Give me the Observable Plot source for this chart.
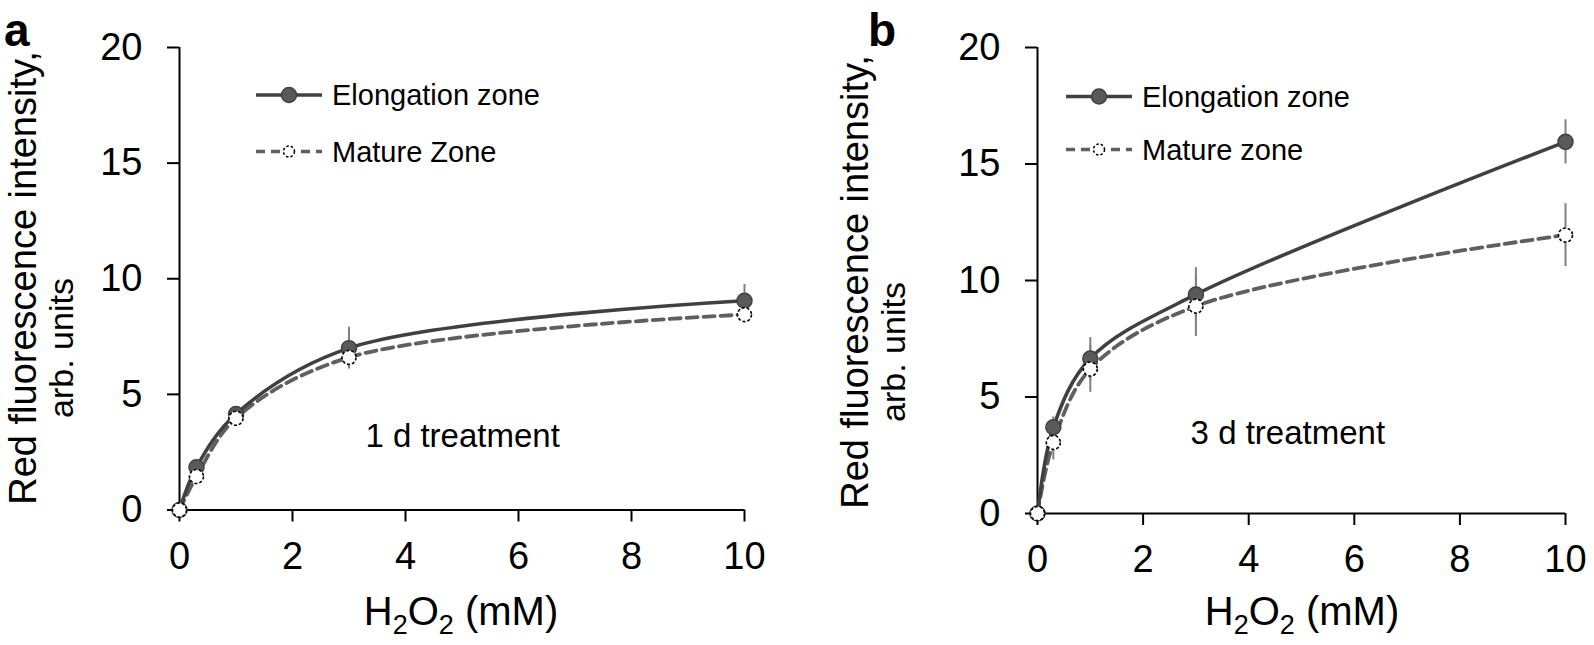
<!DOCTYPE html>
<html>
<head>
<meta charset="utf-8">
<script src="https://cdn.jsdelivr.net/npm/d3@7"></script>
<script src="https://cdn.jsdelivr.net/npm/@observablehq/plot@0.6"></script>
<style>
  html, body { margin: 0; padding: 0; background: #fff; }
  #wrap { position: relative; width: 1594px; height: 645px; overflow: hidden; }
  .panel { position: absolute; top: 0; width: 797px; height: 645px; }
  svg { overflow: visible; }
</style>
</head>
<body>
<div id="wrap">
  <div class="panel" id="pa" style="left:0px"></div>
  <div class="panel" id="pb" style="left:797px"></div>
</div>
<script>
// ---- data ----
const dose = [0, 0.3, 1, 3, 10];               // H2O2 (mM)
const xTicks = [0, 2, 4, 6, 8, 10];
const yTicks = [0, 5, 10, 15, 20];

// 1 d treatment
const elong1d     = [0, 1.85, 4.15, 7.0, 9.05];
const elong1dErr  = [0, 0.2, 0.25, 0.9, 0.7];
const mature1d    = [0, 1.45, 3.97, 6.6, 8.45];
const mature1dErr = [0, 0.3, 0.2, 0.45, 0.2];

// 3 d treatment
const elong3d     = [0, 3.7, 6.65, 9.4, 15.95];
const elong3dErr  = [0, 0.45, 0.9, 1.15, 0.95];
const mature3d    = [0, 3.05, 6.2, 8.9, 11.95];
const mature3dErr = [0, 0.75, 1.0, 1.3, 1.35];

const FONT = "'Liberation Sans', Arial, Helvetica, sans-serif";
const C_EL = "#404040", C_EL_FILL = "#5a5a5a", C_MA = "#5f5f5f", C_ERR = "#808080";

function panel(cfg) {
  const data = dose.map((d, i) => ({
    x: d, e: cfg.el[i], ee: cfg.elErr[i], m: cfg.ma[i], me: cfg.maErr[i]
  }));
  const plot = Plot.plot({
    width: 797,
    height: 645,
    marginLeft: cfg.ml,
    marginRight: cfg.mr,
    marginTop: 47,
    marginBottom: cfg.mb,
    style: { fontFamily: FONT, color: "#000", background: "transparent", overflow: "visible" },
    x: { domain: [0, 10], ticks: xTicks },
    y: { domain: [0, 20], ticks: yTicks },
    marks: [
      Plot.axisX({ ticks: xTicks, tickSize: 12, tickPadding: 20, fontSize: 38, strokeWidth: 2, label: null }),
      Plot.axisY({ ticks: yTicks, tickSize: 12, tickPadding: 25, fontSize: 38, strokeWidth: 2, label: null }),
      Plot.ruleY([0], { stroke: "#000", strokeWidth: 2 }),
      Plot.ruleX([0], { stroke: "#000", strokeWidth: 2 }),
      Plot.text([cfg.note], { x: () => cfg.noteX, y: () => cfg.noteY, text: d => d,
        textAnchor: "start", lineAnchor: "bottom", fontSize: 33, fill: "#000" }),
      Plot.line(data, { x: "x", y: "m", curve: "catmull-rom", stroke: C_MA, strokeWidth: 3.8, strokeDasharray: "11,6" }),
      Plot.line(data, { x: "x", y: "e", curve: "catmull-rom", stroke: C_EL, strokeWidth: 3.6 }),
      Plot.ruleX(data.filter(d => d.ee > 0), { x: "x", y1: d => d.e - d.ee, y2: d => d.e + d.ee, stroke: C_ERR, strokeWidth: 2 }),
      Plot.ruleX(data.filter(d => d.me > 0), { x: "x", y1: d => d.m - d.me, y2: d => d.m + d.me, stroke: C_ERR, strokeWidth: 2 }),
      Plot.dot(data, { x: "x", y: "e", r: 7.5, fill: C_EL_FILL, stroke: C_EL, strokeWidth: 1.5 }),
      Plot.dot(data, { x: "x", y: "m", r: 7, fill: "#fff", stroke: "#000", strokeWidth: 1.6, strokeDasharray: "3,2" })
    ]
  });

  const svg = d3.select(plot);
  // panel letter
  svg.append("text").attr("x", cfg.letterX).attr("y", 46).attr("text-anchor", "start")
    .attr("font-family", FONT).attr("font-weight", "bold").attr("font-size", 46)
    .attr("fill", "#000").text(cfg.letter);

  // y-axis title (two lines, rotated)
  svg.append("text").attr("font-family", FONT).attr("font-size", 38).attr("fill", "#000")
    .attr("text-anchor", "middle")
    .attr("transform", `translate(${cfg.yt1X},${cfg.yt1Y}) rotate(-90)`)
    .text("Red fluorescence intensity,");
  svg.append("text").attr("font-family", FONT).attr("font-size", 34).attr("fill", "#000")
    .attr("text-anchor", "middle")
    .attr("transform", `translate(${cfg.yt2X},${cfg.yt2Y}) rotate(-90)`)
    .text("arb. units");

  // x-axis title H2O2 (mM)
  const xt = svg.append("text").attr("font-family", FONT).attr("font-size", 40).attr("fill", "#000")
    .attr("text-anchor", "middle").attr("x", cfg.xtX).attr("y", 625);
  xt.append("tspan").text("H");
  xt.append("tspan").attr("font-size", 27).attr("dy", 9).text("2");
  xt.append("tspan").attr("dy", -9).text("O");
  xt.append("tspan").attr("font-size", 27).attr("dy", 9).text("2");
  xt.append("tspan").attr("dy", -9).text(" (mM)");

  // legend
  const lg = svg.append("g").attr("transform", `translate(${cfg.lgX},0)`);
  const rows = [
    { y: cfg.lgY1, label: "Elongation zone", dash: null, stroke: C_EL, fill: C_EL_FILL, cs: C_EL, r: 7.5, cdash: null },
    { y: cfg.lgY2, label: cfg.matureLabel, dash: "9,6", stroke: C_MA, fill: "#fff", cs: "#000", r: 5.5, cdash: "2.5,2" }
  ];
  rows.forEach(r => {
    lg.append("line").attr("x1", 0).attr("x2", 66).attr("y1", r.y).attr("y2", r.y)
      .attr("stroke", r.stroke).attr("stroke-width", 3.6).attr("stroke-dasharray", r.dash);
    lg.append("circle").attr("cx", 33).attr("cy", r.y).attr("r", r.r)
      .attr("fill", r.fill).attr("stroke", r.cs).attr("stroke-width", 1.5).attr("stroke-dasharray", r.cdash);
    lg.append("text").attr("x", 76).attr("y", r.y).attr("dy", "0.36em").attr("text-anchor", "start")
      .attr("font-family", FONT).attr("font-size", 29).attr("fill", "#000").text(r.label);
  });
  return plot;
}

document.getElementById("pa").appendChild(panel({
  el: elong1d, elErr: elong1dErr, ma: mature1d, maErr: mature1dErr,
  ml: 179, mr: 53, mb: 135.5,
  note: "1 d treatment", noteX: 3.29, noteY: 2.72,
  letter: "a", letterX: 4,
  yt1X: 36, yt1Y: 278, yt2X: 73, yt2Y: 348,
  xtX: 461,
  lgX: 256, lgY1: 95, lgY2: 151.5, matureLabel: "Mature Zone"
}));

document.getElementById("pb").appendChild(panel({
  el: elong3d, elErr: elong3dErr, ma: mature3d, maErr: mature3dErr,
  ml: 240, mr: 29, mb: 132,
  note: "3 d treatment", noteX: 2.9, noteY: 3.0,
  letter: "b", letterX: 71,
  yt1X: 71, yt1Y: 282, yt2X: 108, yt2Y: 352,
  xtX: 505,
  lgX: 269, lgY1: 96.5, lgY2: 149.5, matureLabel: "Mature zone"
}));
</script>
</body>
</html>
